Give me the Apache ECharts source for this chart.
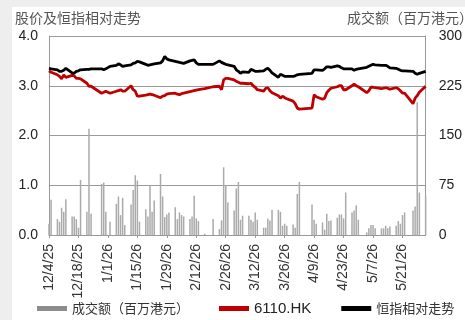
<!DOCTYPE html>
<html>
<head>
<meta charset="utf-8">
<script src="https://cdn.jsdelivr.net/npm/echarts@6/dist/echarts.min.js"></script>
<style>
html,body{margin:0;padding:0;background:#eeeeee;}
#panel{position:absolute;left:12px;top:7px;width:453px;height:313px;background:#ffffff;}
#chart{position:absolute;left:0;top:0;width:465px;height:320px;}
</style>
</head>
<body>
<div id="panel"></div>
<div id="chart"></div>
<script>
// Trading dates (HK market) shown in the chart
const tradeDates = [
 '2025-12-04','2025-12-05',
 '2025-12-08','2025-12-09','2025-12-10','2025-12-11','2025-12-12',
 '2025-12-15','2025-12-16','2025-12-17','2025-12-18','2025-12-19',
 '2025-12-22','2025-12-23','2025-12-24',
 '2025-12-29','2025-12-30','2025-12-31','2026-01-02',
 '2026-01-05','2026-01-06','2026-01-07','2026-01-08','2026-01-09',
 '2026-01-12','2026-01-13','2026-01-14','2026-01-15','2026-01-16',
 '2026-01-19','2026-01-20','2026-01-21','2026-01-22','2026-01-23',
 '2026-01-26','2026-01-27','2026-01-28','2026-01-29','2026-01-30',
 '2026-02-02','2026-02-03','2026-02-04','2026-02-05','2026-02-06',
 '2026-02-09','2026-02-10','2026-02-11','2026-02-12','2026-02-13',
 '2026-02-16','2026-02-20',
 '2026-02-23','2026-02-24','2026-02-25','2026-02-26','2026-02-27',
 '2026-03-02','2026-03-03','2026-03-04','2026-03-05','2026-03-06',
 '2026-03-09','2026-03-10','2026-03-11','2026-03-12','2026-03-13',
 '2026-03-16','2026-03-17','2026-03-18','2026-03-19','2026-03-20',
 '2026-03-23','2026-03-24','2026-03-25','2026-03-26','2026-03-27',
 '2026-03-30','2026-03-31','2026-04-01','2026-04-02',
 '2026-04-08','2026-04-09','2026-04-10',
 '2026-04-13','2026-04-14','2026-04-15','2026-04-16','2026-04-17',
 '2026-04-20','2026-04-21','2026-04-22','2026-04-23','2026-04-24',
 '2026-04-27','2026-04-28','2026-04-29','2026-04-30',
 '2026-05-04','2026-05-05','2026-05-06','2026-05-07','2026-05-08',
 '2026-05-11','2026-05-12','2026-05-13','2026-05-14','2026-05-15',
 '2026-05-18','2026-05-19','2026-05-20','2026-05-21','2026-05-22',
 '2026-05-26','2026-05-27','2026-05-28','2026-05-29',
 '2026-06-01'
];
// 成交额（百万港元）
const volume = [
 17,53,
 24,20,41,35,54,
 28,28,24,11,83,
 35,160,32,
 77,79,35,20,
 47,58,30,56,15,
 46,68,90,82,20,
 39,28,75,35,52,
 92,58,27,31,34,
 42,24,34,30,28,
 24,28,59,25,21,
 2,24,
 9,22,102,75,49,
 37,70,80,23,29,
 29,23,20,34,23,
 11,11,25,22,38,
 38,35,14,17,14,
 16,11,62,80,
 46,23,17,
 19,8,32,21,22,
 26,31,31,25,64,
 34,37,45,23,
 4,10,15,15,10,
 10,10,14,10,13,
 14,21,17,30,34,
 37,43,200,64,
 59
];
// 6110.HK
const price = [
 3.30,3.27,
 3.22,3.19,3.14,3.22,3.17,
 3.21,3.20,3.15,3.15,3.14,
 3.05,2.99,2.99,
 2.85,2.87,2.89,2.85,
 2.89,2.90,2.92,2.89,2.89,
 3.00,2.92,2.89,2.79,2.79,
 2.81,2.82,2.83,2.82,2.81,
 2.76,2.79,2.80,2.83,2.84,
 2.85,2.83,2.82,2.84,2.85,
 2.88,2.89,2.90,2.91,2.92,
 2.94,2.98,
 2.99,2.92,3.12,3.15,3.15,
 3.12,3.09,3.07,3.05,3.05,
 3.04,3.05,3.00,2.97,2.92,
 2.89,2.95,2.96,2.90,2.86,
 2.80,2.75,2.79,2.76,2.74,
 2.69,2.64,2.55,2.53,
 2.55,2.82,2.78,
 2.73,2.75,2.86,2.91,2.95,
 2.98,3.00,3.00,2.92,2.92,
 3.00,3.03,3.00,2.98,
 2.86,2.90,2.97,2.97,2.96,
 2.94,2.95,2.96,2.95,2.93,
 2.96,2.94,2.90,2.85,2.85,
 2.64,2.75,2.80,2.87,
 2.99
];
// 恒指相对走势
const hsiRel = [
 3.35,3.34,
 3.32,3.29,3.29,3.31,3.35,
 3.26,3.25,3.29,3.30,3.32,
 3.33,3.33,3.34,
 3.34,3.32,3.34,3.39,
 3.41,3.44,3.42,3.39,3.40,
 3.42,3.45,3.46,3.49,3.48,
 3.43,3.41,3.42,3.43,3.44,
 3.46,3.50,3.59,3.54,3.52,
 3.49,3.48,3.47,3.46,3.45,
 3.50,3.51,3.52,3.46,3.43,
 3.43,3.43,
 3.50,3.47,3.45,3.43,3.42,
 3.39,3.32,3.29,3.25,3.28,
 3.27,3.33,3.31,3.29,3.29,
 3.30,3.33,3.35,3.31,3.26,
 3.17,3.23,3.21,3.19,3.19,
 3.19,3.20,3.22,3.23,
 3.25,3.32,3.32,
 3.31,3.34,3.38,3.38,3.37,
 3.40,3.39,3.36,3.34,3.34,
 3.34,3.31,3.33,3.34,
 3.37,3.39,3.41,3.43,3.42,
 3.41,3.41,3.41,3.39,3.36,
 3.35,3.33,3.31,3.30,3.30,
 3.29,3.25,3.23,3.25,
 3.29
];
const tickLabels = ['12/4/25','12/18/25','1/1/26','1/15/26','1/29/26','2/12/26','2/26/26',
 '3/12/26','3/26/26','4/9/26','4/23/26','5/7/26','5/21/26'];
const axisStart = '2025-12-04';
const axisEnd = '2026-06-01';

// Build the calendar-day category axis
function utc(s){const p=s.split('-').map(Number);return Date.UTC(p[0],p[1]-1,p[2]);}
const DAY = 86400000;
const t0 = utc(axisStart), t1 = utc(axisEnd);
const categories = [];
for (let t = t0; t <= t1; t += DAY) {
  const d = new Date(t);
  categories.push((d.getUTCMonth()+1)+'/'+d.getUTCDate()+'/'+String(d.getUTCFullYear()).slice(2));
}
function spread(vals){
  const arr = categories.map(()=>null);
  tradeDates.forEach((s,i)=>{ arr[Math.round((utc(s)-t0)/DAY)] = vals[i]; });
  return arr;
}
const showTick = (i, v) => tickLabels.indexOf(v) >= 0;

const chart = echarts.init(document.getElementById('chart'), null, {renderer:'canvas'});
const latin = 'Liberation Sans, Arial, sans-serif';
const cjk = 'Noto Sans CJK SC, sans-serif';
chart.setOption({
  animation:false,
  grid:{left:49,right:35,top:36,bottom:85,containLabel:false},
  graphic:[
    {type:'text',left:15,top:11,style:{text:'股价及恒指相对走势',font:'14px '+cjk,fill:'#555'}},
    {type:'text',left:347,top:11,style:{text:'成交额（百万港元）',font:'14px '+cjk,fill:'#555'}}
  ],
  legend:{
    left:32,top:296,itemWidth:30,itemHeight:5,itemGap:30,
    textStyle:{color:'#333',fontFamily:cjk,fontSize:13},
    data:[
      {name:'成交额（百万港元）',icon:'rect',itemStyle:{color:'#8c8c8c'}},
      {name:'6110.HK',icon:'rect',itemStyle:{color:'#c00000'},textStyle:{fontFamily:latin,fontSize:15,color:'#222'}},
      {name:'恒指相对走势',icon:'rect',itemStyle:{color:'#000'}}
    ]
  },
  xAxis:{
    type:'category',data:categories,boundaryGap:false,
    axisLine:{lineStyle:{color:'#999',width:1}},
    axisTick:{show:true,interval:showTick,length:3,lineStyle:{color:'#999'}},
    axisLabel:{interval:showTick,rotate:90,margin:9,color:'#333',fontFamily:latin,fontSize:14},
    splitLine:{show:false}
  },
  yAxis:[
    {type:'value',min:0,max:4,interval:1,
     axisLine:{show:true,lineStyle:{color:'#999'}},axisTick:{show:false},
     axisLabel:{formatter:v=>v.toFixed(1),color:'#222',fontFamily:latin,fontSize:14,margin:11},
     splitLine:{show:true,lineStyle:{color:'#9a9a9a',width:1}}},
    {type:'value',min:0,max:300,interval:75,
     axisLine:{show:true,lineStyle:{color:'#999'}},axisTick:{show:false},
     axisLabel:{color:'#222',fontFamily:latin,fontSize:14,margin:13},
     splitLine:{show:false}}
  ],
  series:[
    {name:'成交额（百万港元）',type:'bar',yAxisIndex:1,data:spread(volume),
     barWidth:1.5,itemStyle:{color:'#aaaaaa'},clip:false},
    {name:'6110.HK',type:'line',yAxisIndex:0,data:spread(price),connectNulls:true,
     showSymbol:false,symbol:'none',lineStyle:{color:'#c00000',width:2.8},itemStyle:{color:'#c00000'}},
    {name:'恒指相对走势',type:'line',yAxisIndex:0,data:spread(hsiRel),connectNulls:true,
     showSymbol:false,symbol:'none',lineStyle:{color:'#000',width:2.8},itemStyle:{color:'#000'}}
  ]
});
</script>
</body>
</html>
